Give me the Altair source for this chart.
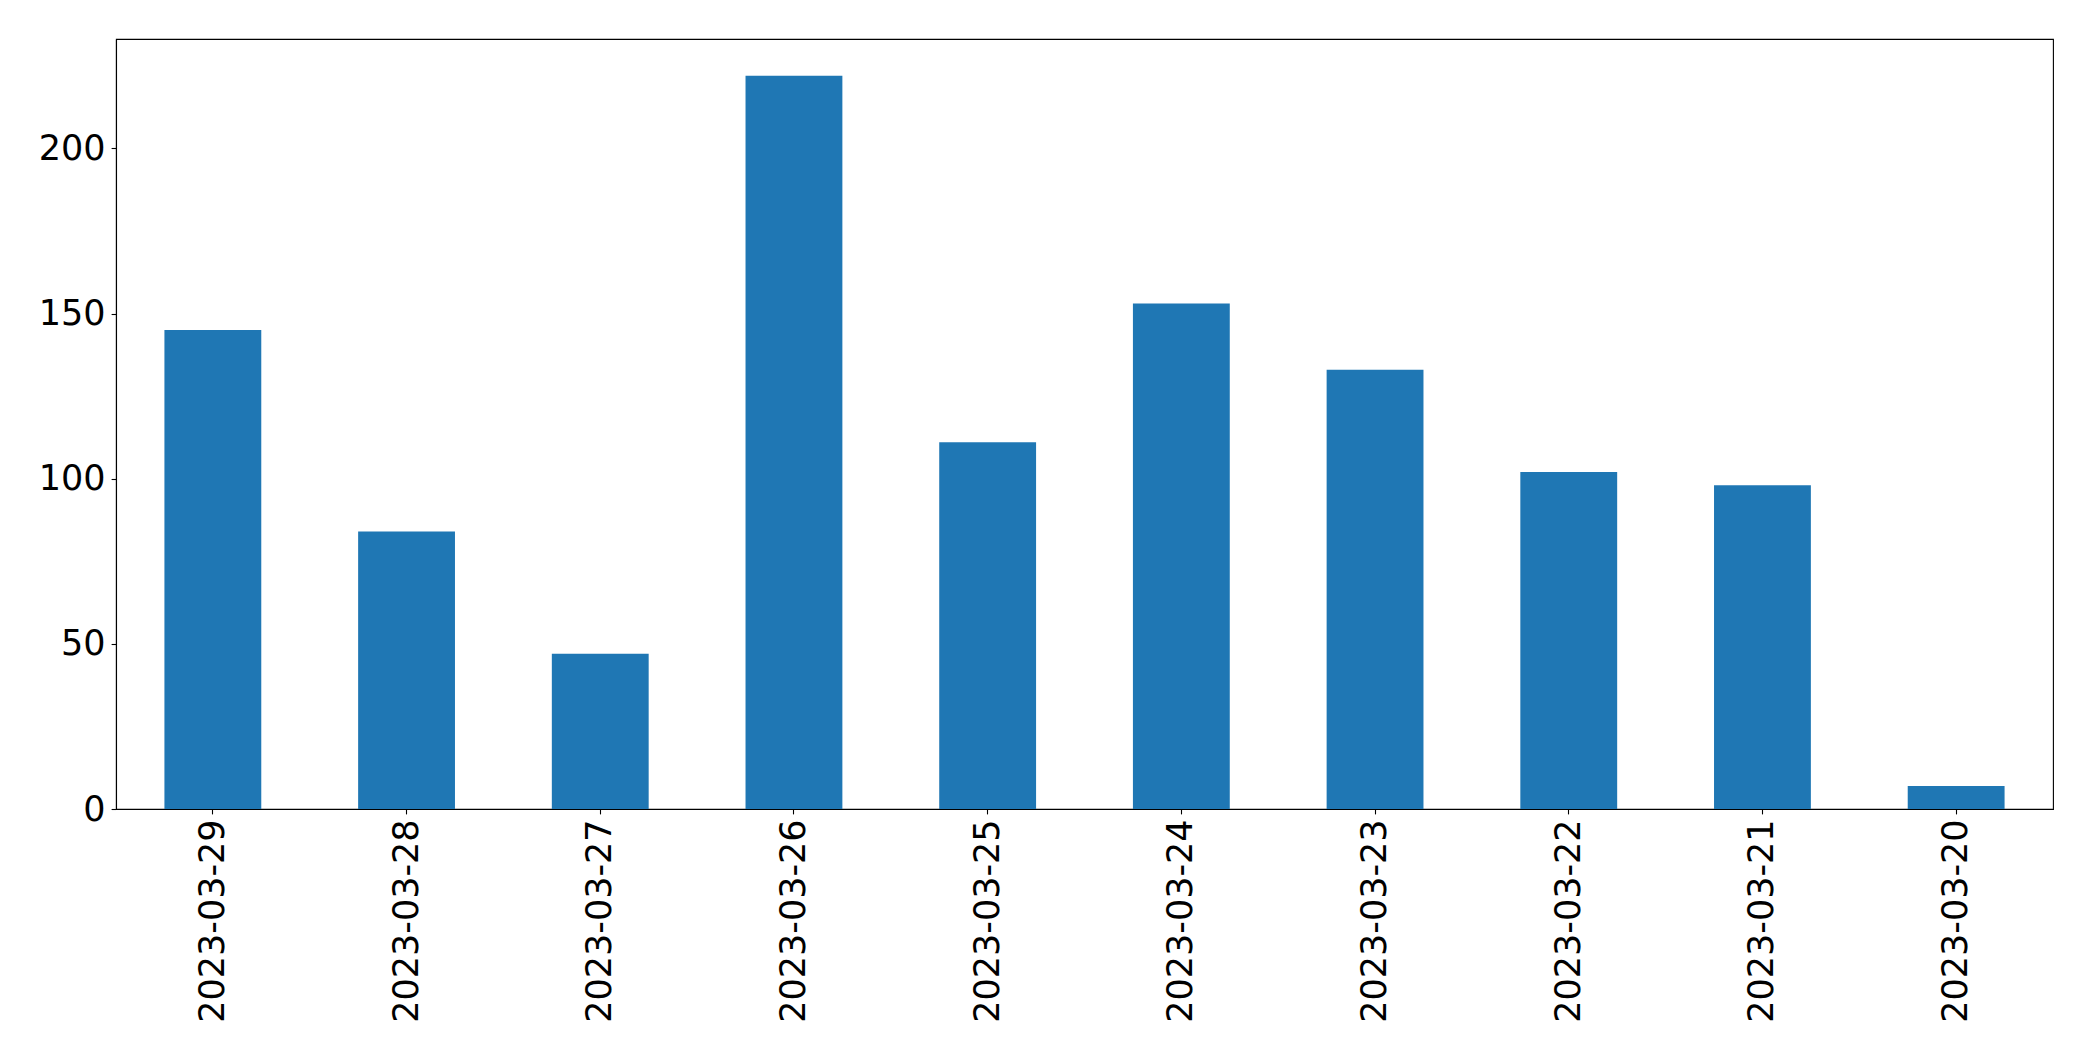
import altair as alt
import pandas as pd

dates = ["2023-03-29", "2023-03-28", "2023-03-27", "2023-03-26", "2023-03-25",
         "2023-03-24", "2023-03-23", "2023-03-22", "2023-03-21", "2023-03-20"]
counts = [145, 84, 47, 222, 111, 153, 133, 102, 98, 7]
y_ticks = [0, 50, 100, 150, 200]

df = pd.DataFrame({"date": dates, "count": counts})

FONT = "DejaVu Sans"
FS = 35

chart = (
    alt.Chart(df)
    .mark_bar(color="#1f77b4")
    .encode(
        x=alt.X(
            "date:N",
            sort=dates,
            title=None,
            scale=alt.Scale(paddingInner=0.5, paddingOuter=0.25),
            axis=alt.Axis(
                labelAngle=-90,
                labelFont=FONT,
                labelFontSize=FS,
                labelColor="black",
                labelPadding=5,
                labelLimit=1000,
                tickColor="black",
                tickSize=4.9,
                tickWidth=1.1,
                domainColor="black",
                domainWidth=1.1,
                grid=False,
            ),
        ),
        y=alt.Y(
            "count:Q",
            title=None,
            scale=alt.Scale(domain=[0, 233.1], nice=False, zero=True),
            axis=alt.Axis(
                values=y_ticks,
                labelFont=FONT,
                labelFontSize=FS,
                labelColor="black",
                labelPadding=6,
                tickColor="black",
                tickSize=4.9,
                tickWidth=1.1,
                domainColor="black",
                domainWidth=1.1,
                grid=False,
            ),
        ),
    )
    .properties(
        width=1937,
        height=770,
        autosize=alt.AutoSizeParams(type="none"),
        padding={"left": 108, "top": 31, "right": 30, "bottom": 240},
    )
    .configure(background="white")
    .configure_view(stroke="black", strokeWidth=1.1)
)

chart.save("out.html", embed_options={"renderer": "svg", "actions": False})
